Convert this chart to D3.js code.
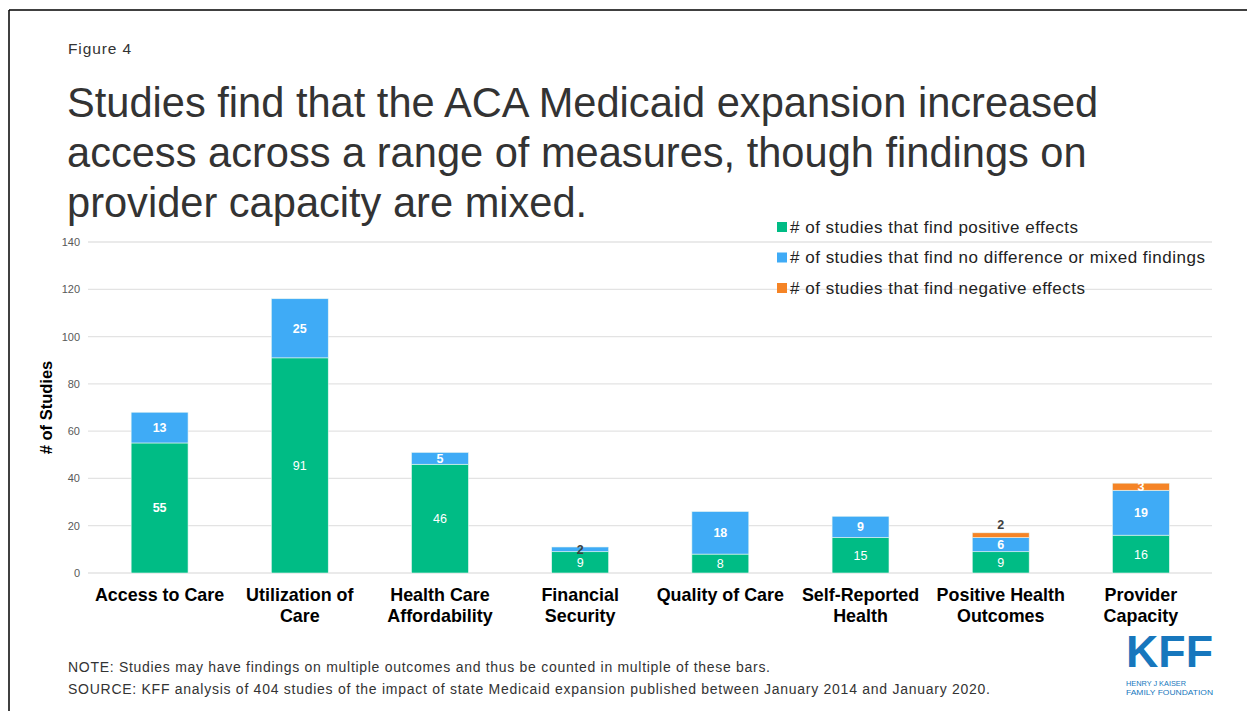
<!DOCTYPE html>
<html>
<head>
<meta charset="utf-8">
<script src="https://cdn.jsdelivr.net/npm/d3@7"></script>
<style>
  html, body { margin: 0; padding: 0; background: #fff; }
  svg { display: block; font-family: "Liberation Sans", Arial, sans-serif; }
</style>
</head>
<body>
<svg id="chart" width="1247" height="711"></svg>
<script>
// Outcome categories, with the line breaks used on the axis
const categories = ["Access to Care", "Utilization of Care", "Health Care Affordability", "Financial Security",
  "Quality of Care", "Self-Reported Health", "Positive Health Outcomes", "Provider Capacity"];
const categoryLines = [["Access to Care"], ["Utilization of", "Care"], ["Health Care", "Affordability"],
  ["Financial", "Security"], ["Quality of Care"], ["Self-Reported", "Health"], ["Positive Health", "Outcomes"],
  ["Provider", "Capacity"]];

// Number of studies per finding
const positive = [55, 91, 46, 9, 8, 15, 9, 16];
const mixed = [13, 25, 5, 2, 18, 9, 6, 19];
const negative = [0, 0, 0, 0, 0, 0, 2, 3];

const seriesNames = ["# of studies that find positive effects",
  "# of studies that find no difference or mixed findings",
  "# of studies that find negative effects"];
const seriesColors = ["#00BC85", "#3FABF6", "#F58426"];

const yTicks = [0, 20, 40, 60, 80, 100, 120, 140];

const svg = d3.select("#chart");

// Slide frame (top and left rules)
svg.append("line").attr("x1", 9).attr("x2", 1247).attr("y1", 10).attr("y2", 10)
  .attr("stroke", "#000").attr("stroke-width", 1.5);
svg.append("line").attr("x1", 9).attr("x2", 9).attr("y1", 10).attr("y2", 711)
  .attr("stroke", "#000").attr("stroke-width", 1.5);

svg.append("text").attr("x", 68).attr("y", 54).attr("font-size", 15.5).attr("fill", "#333")
  .attr("textLength", 63).attr("lengthAdjust", "spacing")
  .text("Figure 4");

const titleLines = ["Studies find that the ACA Medicaid expansion increased",
  "access across a range of measures, though findings on",
  "provider capacity are mixed."];
svg.append("g").selectAll("text").data(titleLines).join("text")
  .attr("x", 67).attr("y", (d, i) => 117 + i * 50)
  .attr("font-size", 41.6).attr("fill", "#333")
  .text(d => d);

// Scales
const x = d3.scaleBand().domain(categories).range([89.5, 1211]).paddingInner(0.594).paddingOuter(0.297);
const y = d3.scaleLinear().domain([0, 140]).range([573, 242]);

// Gridlines
svg.append("g").selectAll("line").data(yTicks).join("line")
  .attr("x1", 88).attr("x2", 1212)
  .attr("y1", d => y(d)).attr("y2", d => y(d))
  .attr("stroke", "#e3e3e3").attr("stroke-width", 1.3);

// Y axis labels
const yAxis = d3.axisLeft(y).tickValues(yTicks).tickSize(0).tickPadding(0);
const yg = svg.append("g").attr("transform", "translate(80,0)").call(yAxis);
yg.select(".domain").remove();
yg.selectAll("text").attr("font-size", 11).attr("fill", "#595959")
  .attr("font-family", "Liberation Sans, Arial, sans-serif");

svg.append("text")
  .attr("transform", `translate(52,${y(70)}) rotate(-90)`)
  .attr("text-anchor", "middle").attr("font-size", 16.5).attr("font-weight", "bold").attr("fill", "#000")
  .text("# of Studies");

// Stacked bars
const rows = categories.map((c, i) => ({ category: c, positive: positive[i], mixed: mixed[i], negative: negative[i] }));
const stack = d3.stack().keys(["positive", "mixed", "negative"])(rows);

const barG = svg.append("g");
stack.forEach((layer, si) => {
  barG.append("g").selectAll("rect").data(layer.filter(d => d[1] - d[0] > 0)).join("rect")
    .attr("x", d => x(d.data.category))
    .attr("width", x.bandwidth())
    .attr("y", d => y(d[1]))
    .attr("height", d => y(d[0]) - y(d[1]))
    .attr("fill", seriesColors[si])
    .attr("stroke", "#e8f6f0").attr("stroke-width", 0.6);
});

// Segment value labels
const positiveBold = [true, false, false, false, false, false, false, false];
const labelG = svg.append("g").attr("text-anchor", "middle").attr("font-size", 12.5);
stack.forEach((layer, si) => {
  layer.forEach((d, i) => {
    const v = d[1] - d[0];
    if (v <= 0) return;
    const cx = x(d.data.category) + x.bandwidth() / 2;
    let cy = y((d[0] + d[1]) / 2);
    let fill = "#fff";
    let bold = si > 0 || positiveBold[i];
    if (v <= 2) { fill = "#404040"; bold = true; }
    if (si === 2 && v <= 2) cy = y(d[1]) - 8;
    labelG.append("text")
      .attr("x", cx).attr("y", cy).attr("dy", "0.36em")
      .attr("fill", fill).attr("font-weight", bold ? "bold" : "normal")
      .text(v);
  });
});

// Category labels
const xg = svg.append("g").attr("text-anchor", "middle").attr("font-size", 17.9).attr("font-weight", "bold");
categories.forEach((c, i) => {
  const t = xg.append("text").attr("x", x(c) + x.bandwidth() / 2).attr("y", 601).attr("fill", "#000");
  categoryLines[i].forEach((line, li) => {
    t.append("tspan").attr("x", x(c) + x.bandwidth() / 2).attr("dy", li === 0 ? 0 : 21).text(line);
  });
});

// Legend
const legendWidths = [288, 415, 295];
const lg = svg.append("g");
seriesNames.forEach((name, i) => {
  const ly = 227 + i * 30.5;
  lg.append("rect").attr("x", 777).attr("y", ly - 5).attr("width", 10).attr("height", 10).attr("fill", seriesColors[i]);
  lg.append("text").attr("x", 790).attr("y", ly).attr("dy", "0.35em").attr("font-size", 17).attr("fill", "#222")
    .attr("textLength", legendWidths[i]).attr("lengthAdjust", "spacing")
    .text(name);
});

// Notes
svg.append("text").attr("x", 68).attr("y", 672).attr("font-size", 14).attr("fill", "#333")
  .attr("textLength", 702).attr("lengthAdjust", "spacing")
  .text("NOTE: Studies may have findings on multiple outcomes and thus be counted in multiple of these bars.");
svg.append("text").attr("x", 68).attr("y", 694).attr("font-size", 14).attr("fill", "#333")
  .attr("textLength", 922).attr("lengthAdjust", "spacing")
  .text("SOURCE: KFF analysis of 404 studies of the impact of state Medicaid expansion published between January 2014 and January 2020.");

// KFF wordmark: monogram with the foundation name beneath
const logo = svg.append("g").attr("fill", "#1777BD");
logo.append("text").attr("x", 1126).attr("y", 667).attr("font-size", 45).attr("font-weight", "bold")
  .attr("font-family", "Liberation Sans Narrow, Arial Narrow, sans-serif")
  .attr("textLength", 87).attr("lengthAdjust", "spacingAndGlyphs").text("KFF");
logo.append("text").attr("x", 1126).attr("y", 686).attr("font-size", 8)
  .attr("textLength", 60).attr("lengthAdjust", "spacingAndGlyphs").text("HENRY J KAISER");
logo.append("text").attr("x", 1126).attr("y", 695).attr("font-size", 8)
  .attr("textLength", 87).attr("lengthAdjust", "spacingAndGlyphs").text("FAMILY FOUNDATION");
</script>
</body>
</html>
